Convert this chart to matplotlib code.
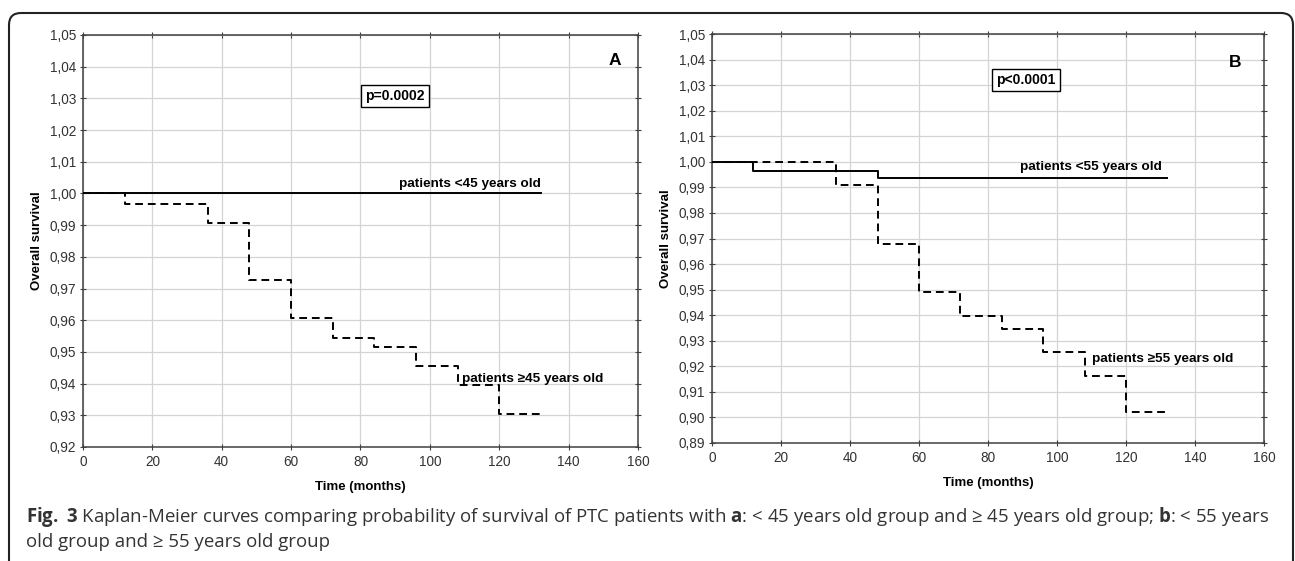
import numpy as np
import matplotlib
matplotlib.use("Agg")
from matplotlib import pyplot as plt
from matplotlib import font_manager
from matplotlib.patches import FancyBboxPatch

# 数据: Kaplan-Meier 曲线 (时间-月, 生存率)
time_a_young = [0, 132]
surv_a_young = [1.0, 1.0]
time_a_old = [0, 12, 36, 48, 60, 72, 84, 96, 108, 120, 132]
surv_a_old = [1.0, 0.9967, 0.9908, 0.9727, 0.9606, 0.9545, 0.9515, 0.9455, 0.9396, 0.9305, 0.9305]

time_b_young = [0, 12, 48, 132]
surv_b_young = [1.0, 0.9966, 0.9935, 0.9935]
time_b_old = [0, 36, 48, 60, 72, 84, 96, 108, 120, 132]
surv_b_old = [1.0, 0.9908, 0.9677, 0.9490, 0.9395, 0.9347, 0.9255, 0.9163, 0.9022, 0.9022]

xticks = [0, 20, 40, 60, 80, 100, 120, 140, 160]
yticks_a = [0.92, 0.93, 0.94, 0.95, 0.96, 0.97, 0.98, 0.99, 1.00, 1.01, 1.02, 1.03, 1.04, 1.05]
yticks_b = [0.89, 0.90, 0.91, 0.92, 0.93, 0.94, 0.95, 0.96, 0.97, 0.98, 0.99, 1.00, 1.01, 1.02, 1.03, 1.04, 1.05]

labels_a = ["patients <45 years old", "patients \u226545 years old", "p=0.0002", "A"]
labels_b = ["patients <55 years old", "patients \u226555 years old", "p<0.0001", "B"]

caption_1 = (r"$\bf{Fig.}$ $\bf{3}$ Kaplan-Meier curves comparing probability of survival of PTC patients with "
             r"$\bf{a}$: < 45 years old group and " + "\u2265" + r" 45 years old group; $\bf{b}$: < 55 years")
caption_2 = "old group and \u2265 55 years old group"

# 字体
names = set(f.name for f in font_manager.fontManager.ttflist)
narrow = "Liberation Sans Narrow" if "Liberation Sans Narrow" in names else "Liberation Sans"
plt.rcParams["font.family"] = ["Liberation Sans", "DejaVu Sans"]
plt.rcParams["mathtext.fontset"] = "custom"
plt.rcParams["mathtext.rm"] = "Open Sans"
plt.rcParams["mathtext.bf"] = "Open Sans:bold"

W, H = 1295, 561
fig = plt.figure(figsize=(W / 100, H / 100), dpi=100)

# 外框
bg = fig.add_axes([0, 0, 1, 1])
bg.set_xlim(0, W)
bg.set_ylim(H, 0)
bg.axis("off")
bg.add_patch(FancyBboxPatch((9, 13), 1284, 600, boxstyle="round,pad=0,rounding_size=12",
                            fill=False, edgecolor="#222222", linewidth=1.5))


def tick_fmt(v):
    return "{:.2f}".format(v).replace(".", ",")


def draw_panel(rect, t_young, s_young, t_old, s_old, yticks, labels, pos):
    ax = fig.add_axes(rect)
    ax.step(t_young, s_young, where="post", color="black", linewidth=1.4, zorder=3)
    ax.step(t_old, s_old, where="post", color="black", linewidth=1.4,
            linestyle=(0, (4, 2.5)), zorder=3)

    ax.set_xlim(0, 160)
    ax.set_ylim(yticks[0], yticks[-1])
    ax.set_xticks(xticks)
    ax.set_xticklabels([str(v) for v in xticks])
    ax.set_yticks(yticks)
    ax.set_yticklabels([tick_fmt(v) for v in yticks])
    ax.grid(True, color="#d4d4d4", linewidth=0.9)
    ax.set_axisbelow(True)
    for sp in ax.spines.values():
        sp.set_color("#404040")
        sp.set_linewidth(1.1)
    ax.tick_params(direction="inout", length=4, width=0.8, color="#404040",
                   top=True, right=True, labelsize=9.8, labelcolor="#333333")
    ax.tick_params(axis="x", pad=4)
    ax.tick_params(axis="y", pad=3)

    ax.set_xlabel("Time (months)", fontsize=9.5, fontweight="bold", family=[narrow, "DejaVu Sans"])
    ax.xaxis.set_label_coords(0.5, -0.082)
    ax.set_ylabel("Overall survival", fontsize=9.5, fontweight="bold", family=[narrow, "DejaVu Sans"])
    ax.yaxis.set_label_coords(-0.072, 0.5)

    (x1, y1), (x2, y2), (xp, yp), (xl, yl) = pos
    ax.text(x1, y1, labels[0], ha="left", va="center", fontsize=9.7, fontweight="bold",
            family=[narrow, "DejaVu Sans"])
    ax.text(x2, y2, labels[1], ha="left", va="center", fontsize=9.7, fontweight="bold",
            family=[narrow, "DejaVu Sans"])
    ax.text(xp, yp, labels[2], ha="center", va="center", fontsize=10, fontweight="bold",
            family=[narrow, "DejaVu Sans"],
            bbox=dict(boxstyle="square,pad=0.3", facecolor="white", edgecolor="black", linewidth=1))
    ax.text(xl, yl, labels[3], ha="center", va="center", fontsize=12.5, fontweight="bold")
    return ax


draw_panel([83 / W, 1 - 447 / H, 555 / W, 412 / H],
           time_a_young, surv_a_young, time_a_old, surv_a_old, yticks_a, labels_a,
           [(91, 1.003), (109.3, 0.9415), (90, 1.0308), (153.3, 1.0421)])
draw_panel([712 / W, 1 - 443 / H, 552 / W, 409 / H],
           time_b_young, surv_b_young, time_b_old, surv_b_old, yticks_b, labels_b,
           [(89.3, 0.998), (110, 0.9228), (91, 1.032), (151.7, 1.039)])

fig.text(26 / W, 1 - 522 / H, caption_1, ha="left", va="baseline", fontsize=13.4,
         color="#333333", family=["Open Sans", "DejaVu Sans"])
fig.text(26 / W, 1 - 547 / H, caption_2, ha="left", va="baseline", fontsize=13.4,
         color="#333333", family=["Open Sans", "DejaVu Sans"])

fig.savefig("out.png", dpi=100)
